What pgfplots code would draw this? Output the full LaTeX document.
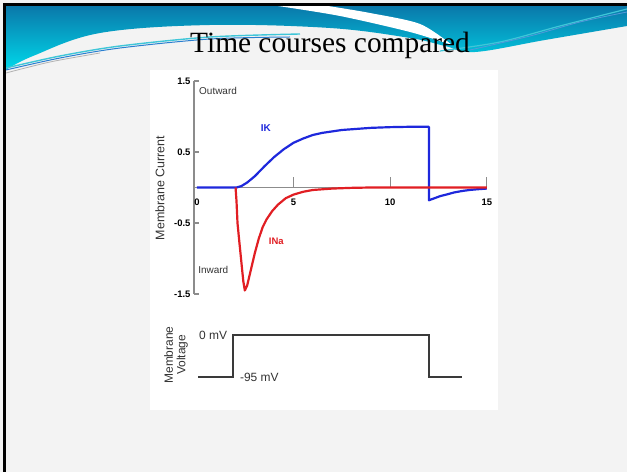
\documentclass[border=0pt]{standalone}
\usepackage{pgfplots}
\pgfplotsset{compat=1.18}
\usepackage{fontspec}
\setmainfont{Liberation Sans}
\newfontfamily\titlefont{Liberation Serif}
\definecolor{slidebg}{HTML}{F3F3F3}
\definecolor{tealtop}{HTML}{0A78AA}
\definecolor{tealbot}{HTML}{00D8EA}
\definecolor{axisgray}{HTML}{8C8C8C}
\definecolor{kblue}{RGB}{30,40,220}
\definecolor{nared}{RGB}{225,30,35}
\definecolor{vgray}{HTML}{3A3A3A}
\definecolor{lblgray}{HTML}{333333}
\definecolor{strokeblue}{HTML}{2A7FD0}
\definecolor{strokecyan}{HTML}{3FC6D8}
\begin{document}
\begin{tikzpicture}
\useasboundingbox (0,0) rectangle (627bp,472bp);
\begin{scope}[x=1bp,y=-1bp,yshift=472bp]
  \fill[slidebg] (0,0) rectangle (627,472);
  \fill[white] (150,70) rectangle (498,410);
  % header band
  \shade[top color=tealtop, bottom color=tealbot]
    (6,6) -- (627,6) -- plot[smooth, tension=0.6] coordinates {(627,26) (545,40) (475,52) (445,46) (410,38) (330,28) (210,25) (100,33) (33,56) (6,70)} -- cycle;
  % white stripe
  \fill[white] plot[smooth] coordinates {(278,6) (340,16) (410,32) (452,45)}
     -- plot[smooth] coordinates {(452,45) (420,24) (370,13) (328,6)} -- cycle;
  % decorative strokes
  \draw[strokecyan, line width=1.4] plot[smooth] coordinates {(6,68) (60,56) (120,46) (210,37) (300,34)};
  \draw[strokeblue, line width=1.0] plot[smooth] coordinates {(6,70) (60,58) (120,48) (210,39) (290,37)};
  \draw[gray!60, line width=0.8] plot[smooth] coordinates {(6,73) (50,62) (100,53)};
  \draw[strokecyan, line width=1.2] plot[smooth] coordinates {(440,51) (500,42) (560,26) (627,9)};
  \draw[strokeblue!80, line width=0.8] plot[smooth] coordinates {(470,50) (530,36) (580,22) (627,12)};
  % border
  \draw[black, line width=3] (4.5,472) -- (4.5,4.5) -- (627,4.5);
  % title
  \node[anchor=base, text=black, font=\titlefont\fontsize{29.5}{32}\selectfont] at (330,53) {Time courses compared};
  % axis titles
  \node[rotate=90, text=lblgray, font=\fontsize{12.5}{14}\selectfont] at (160,188) {Membrane Current};
  \node[rotate=90, text=lblgray, align=center, font=\fontsize{12}{12.5}\selectfont] at (176,355) {Membrane\\Voltage};
\end{scope}

\begin{axis}[
  at={(194bp,178bp)}, anchor=south west,
  scale only axis, width=292.9bp, height=213bp,
  xmin=-0.15, xmax=15, ymin=-1.5, ymax=1.5,
  axis x line=middle, axis y line=left,
  axis line style={draw=axisgray, line width=1.1pt, -},
  xtick={0,5,10,15}, xticklabels={0,5,10,15},
  ytick={-1.5,-0.5,0.5,1.5}, yticklabels={-1.5,-0.5,0.5,1.5},
  hide obscured x ticks=false,
  tick align=inside, major tick length=5bp,
  x tick style={draw=none},
  y tick style={draw=axisgray, line width=1.1pt},
  ticklabel style={font=\fontsize{9.5}{10}\selectfont\bfseries, text=black},
  x tick label style={yshift=-8bp},
  clip=false,
]
\draw[axisgray, line width=1.1pt] (axis cs:5,0) -- ++(0pt,10bp) (axis cs:10,0) -- ++(0pt,10bp) (axis cs:15,0) -- ++(0pt,10bp);
\addplot[kblue, line width=2.2pt, line join=round] coordinates {
 (0,0) (2.05,0) (2.3,0.02) (2.6,0.07) (3.0,0.16) (3.5,0.30) (4.0,0.43) (4.5,0.54)
 (5.0,0.63) (5.5,0.69) (6.0,0.74) (6.5,0.77) (7.0,0.79) (7.5,0.81) (8,0.82)
 (9,0.84) (10,0.85) (11,0.855) (12,0.855) (12,-0.18) (12.3,-0.15) (12.6,-0.12)
 (12.9,-0.10) (13.3,-0.07) (13.7,-0.05) (14.1,-0.035) (14.5,-0.025) (15,-0.015)};
\addplot[nared, line width=2.2pt, line join=round] coordinates {
 (2.0,0) (2.05,-0.2) (2.1,-0.5) (2.2,-0.78) (2.3,-1.05) (2.4,-1.32) (2.48,-1.45)
 (2.6,-1.38) (2.8,-1.15) (3.0,-0.92) (3.2,-0.72) (3.4,-0.56) (3.6,-0.45) (3.9,-0.33)
 (4.2,-0.24) (4.6,-0.15) (5.0,-0.10) (5.5,-0.06) (6.0,-0.035) (7,-0.015) (8,-0.005)
 (9,0) (15,0)};
\node[kblue, font=\fontsize{10}{12}\selectfont\bfseries] at (axis cs:3.57,0.83) {IK};
\node[nared, font=\fontsize{9.5}{11}\selectfont\bfseries] at (axis cs:4.11,-0.76) {INa};
\node[lblgray, anchor=west, inner sep=0, font=\fontsize{10}{12}\selectfont] at (axis cs:0.11,1.36) {Outward};
\node[lblgray, anchor=west, inner sep=0, font=\fontsize{10}{12}\selectfont] at (axis cs:0.06,-1.16) {Inward};
\end{axis}

\begin{axis}[
  at={(194bp,95bp)}, anchor=south west,
  scale only axis, width=292.9bp, height=42bp,
  xmin=-0.15, xmax=15, ymin=-95, ymax=0,
  axis lines=none, clip=false,
]
\addplot[vgray, line width=1.4pt] coordinates {(0.07,-95) (1.86,-95) (1.86,0) (12.0,0) (12.0,-95) (13.7,-95)};
\node[anchor=east, inner sep=0, text=lblgray, font=\fontsize{12}{14}\selectfont] at (axis cs:1.57,0) {0 mV};
\node[anchor=west, inner sep=0, text=lblgray, font=\fontsize{12}{14}\selectfont] at (axis cs:2.22,-95) {-95 mV};
\end{axis}
\end{tikzpicture}
\end{document}
